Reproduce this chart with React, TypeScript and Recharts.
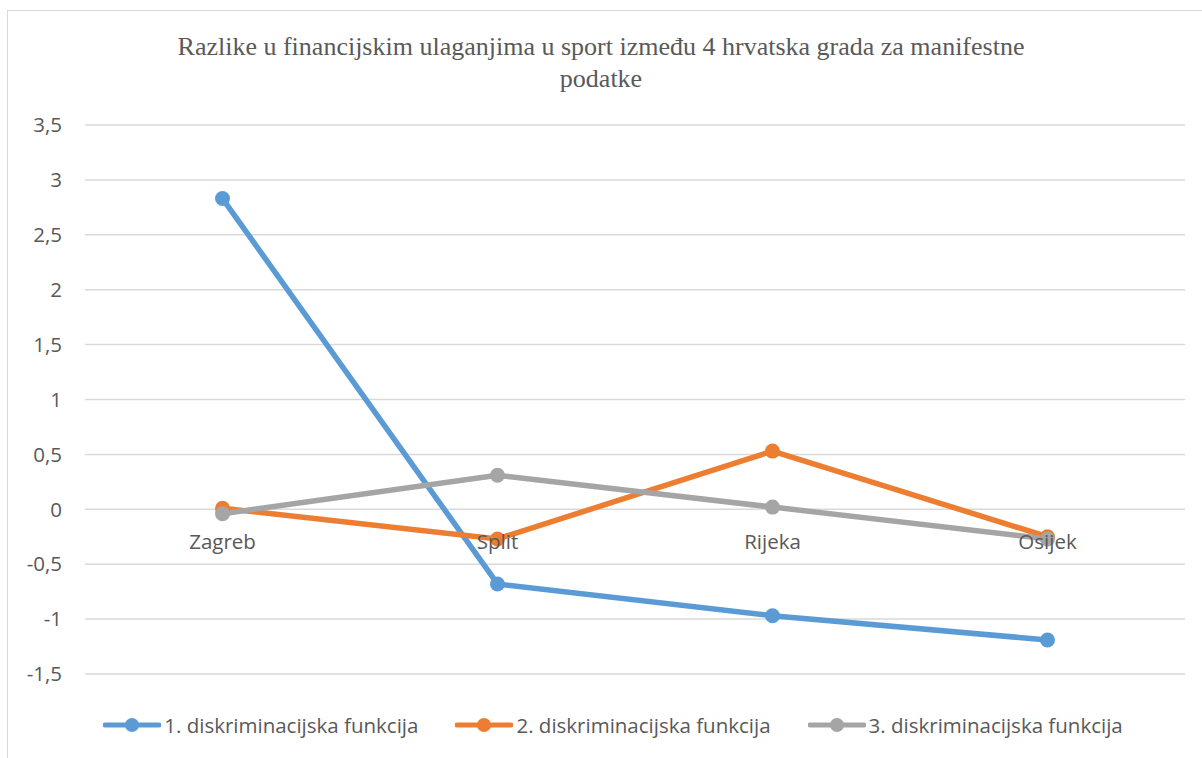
import React from "react";
import { LineChart, Line, XAxis, YAxis, CartesianGrid } from "recharts";

const cities = ["Zagreb", "Split", "Rijeka", "Osijek"];
const func1 = [2.83, -0.68, -0.97, -1.19];
const func2 = [0.01, -0.27, 0.53, -0.25];
const func3 = [-0.04, 0.31, 0.02, -0.27];
const yTicks = [-1.5, -1, -0.5, 0, 0.5, 1, 1.5, 2, 2.5, 3, 3.5];

const seriesList = [
  { key: "f1", name: "1. diskriminacijska funkcija", color: "#5B9BD5" },
  { key: "f2", name: "2. diskriminacijska funkcija", color: "#ED7D31" },
  { key: "f3", name: "3. diskriminacijska funkcija", color: "#A5A5A5" },
];

const data = cities.map((c, i) => ({ city: c, f1: func1[i], f2: func2[i], f3: func3[i] }));

const W = 1202;
const H = 758;
const X_AXIS_H = 30;
const M = { top: 125, right: 17, bottom: 84 - X_AXIS_H, left: 0 };
const Y_MIN = -1.5;
const Y_MAX = 3.5;
const TEXT = "#595959";
const FONT = "'Open Sans', sans-serif";
const FS = 20.5;

// category labels sit next to the zero line, like Excel does
function CityTick(props: any) {
  const plotH = H - M.top - M.bottom - X_AXIS_H;
  const zeroY = M.top + (plotH * Y_MAX) / (Y_MAX - Y_MIN);
  return (
    <text x={props.x} y={zeroY + 40} textAnchor="middle" fill={TEXT} fontSize={FS} fontFamily={FONT}>
      {props.payload.value}
    </text>
  );
}

function LegendRow() {
  return (
    <div
      style={{
        position: "absolute",
        left: 12,
        top: 711,
        width: W,
        display: "flex",
        justifyContent: "center",
        gap: 37,
        fontFamily: FONT,
        fontSize: FS,
        color: TEXT,
      }}
    >
      {seriesList.map((s) => (
        <div key={s.key} style={{ display: "flex", alignItems: "center" }}>
          <svg width={58} height={16} style={{ marginRight: 3 }}>
            <line x1={2} y1={8} x2={56} y2={8} stroke={s.color} strokeWidth={5} strokeLinecap="round" />
            <circle cx={29} cy={8} r={7} fill={s.color} />
          </svg>
          <span>{s.name}</span>
        </div>
      ))}
    </div>
  );
}

export default function App() {
  return (
    <div style={{ position: "absolute", left: 0, top: 0, width: W, height: H, background: "#fff", overflow: "hidden" }}>
      <div
        style={{
          position: "absolute",
          left: 7,
          top: 10,
          width: W,
          height: H,
          borderLeft: "1px solid #D9D9D9",
          borderTop: "1px solid #D9D9D9",
        }}
      />
      <div
        style={{
          position: "absolute",
          left: 0,
          top: 31,
          width: W,
          textAlign: "center",
          fontFamily: "'Liberation Serif', 'Times New Roman', serif",
          fontSize: 26,
          lineHeight: "32px",
          color: TEXT,
        }}
      >
        Razlike u financijskim ulaganjima u sport između 4 hrvatska grada za manifestne
        <br />
        podatke
      </div>
      <div style={{ position: "absolute", left: 0, top: 0 }}>
        <LineChart width={W} height={H} data={data} margin={M}>
          <CartesianGrid vertical={false} stroke="#D9D9D9" strokeWidth={1.5} />
          <XAxis
            dataKey="city"
            axisLine={false}
            tickLine={false}
            tick={<CityTick />}
            interval={0}
            padding={{ left: 137.5, right: 137.5 }}
            height={X_AXIS_H}
          />
          <YAxis
            type="number"
            domain={[Y_MIN, Y_MAX]}
            ticks={yTicks}
            interval={0}
            width={85}
            axisLine={false}
            tickLine={false}
            tickSize={0}
            tickMargin={23}
            tick={{ fill: TEXT, fontSize: FS, fontFamily: FONT }}
            tickFormatter={(v: number) => String(v).replace(".", ",")}
          />
          {seriesList.map((s) => (
            <Line
              key={s.key}
              dataKey={s.key}
              name={s.name}
              stroke={s.color}
              strokeWidth={5.5}
              dot={{ r: 7.5, fill: s.color, stroke: s.color, strokeWidth: 0 }}
              activeDot={false}
              isAnimationActive={false}
            />
          ))}
        </LineChart>
      </div>
      <LegendRow />
    </div>
  );
}
